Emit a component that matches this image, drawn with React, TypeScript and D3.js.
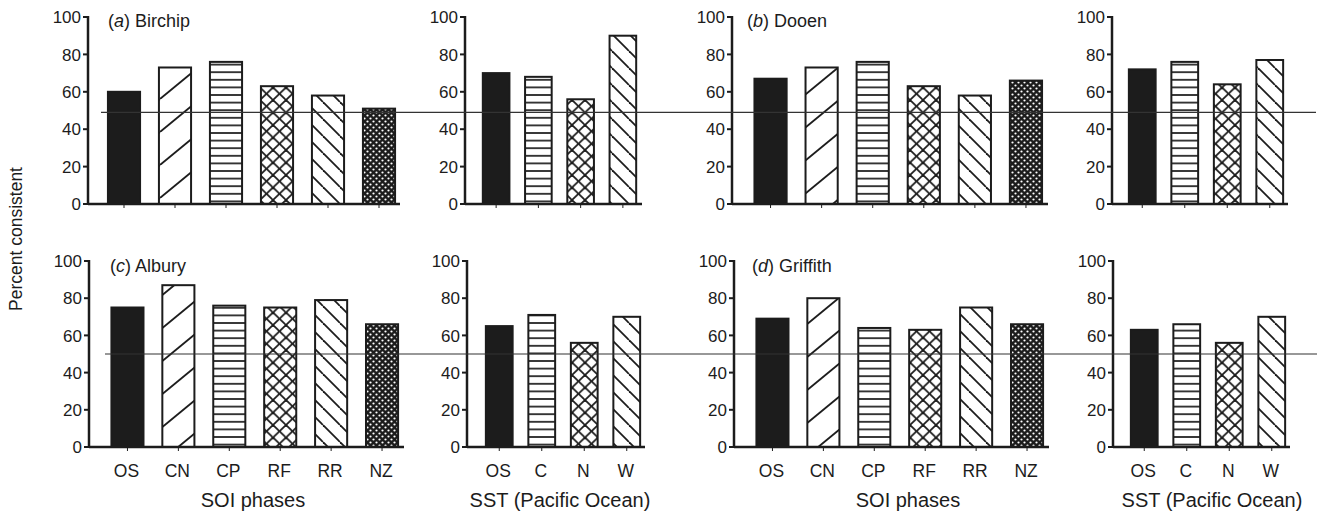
import React from "react";
import * as d3 from "d3";

// ---------- data ----------
const soiCats = ["OS", "CN", "CP", "RF", "RR", "NZ"];
const sstCats = ["OS", "C", "N", "W"];
const yTicks = [0, 20, 40, 60, 80, 100];

const birchipSOI = [60, 73, 76, 63, 58, 51];
const birchipSST = [70, 68, 56, 90];
const dooenSOI = [67, 73, 76, 63, 58, 66];
const dooenSST = [72, 76, 64, 77];
const alburySOI = [75, 87, 76, 75, 79, 66];
const alburySST = [65, 71, 56, 70];
const griffithSOI = [69, 80, 64, 63, 75, 66];
const griffithSST = [63, 66, 56, 70];

const soiFills = ["solid", "fwd", "horiz", "cross", "back", "dense"];
const sstFills = ["solid", "horiz", "cross", "back"];

const refTop = 49;
const refBottom = 50;

// ---------- layout ----------
const FONT = "'Liberation Sans', Arial, Helvetica, sans-serif";
const INK = "#1c1c1c";

type PanelProps = {
  cats: string[];
  values: number[];
  fills: string[];
  y0: number;
  y100: number;
  axisX: number;
  axisEnd: number;
  bandStart: number;
  bandEnd: number;
  showLabels: boolean;
};

function fillFor(kind: string) {
  if (kind === "solid") return INK;
  return `url(#pat-${kind})`;
}

function Panel(p: PanelProps) {
  const y = d3.scaleLinear().domain([0, 100]).range([p.y0, p.y100]);
  const x = d3
    .scaleBand<string>()
    .domain(p.cats)
    .range([p.bandStart, p.bandEnd])
    .paddingInner(0.37)
    .paddingOuter(0.185);
  const bw = x.bandwidth();
  return (
    <g>
      {p.cats.map((c, i) => (
        <rect
          key={c}
          x={x(c)}
          y={y(p.values[i])}
          width={bw}
          height={p.y0 - y(p.values[i])}
          fill={fillFor(p.fills[i])}
          stroke={INK}
          strokeWidth={2}
        />
      ))}
      <line x1={p.axisX} x2={p.axisX} y1={y(100) - 1} y2={p.y0} stroke={INK} strokeWidth={2.5} />
      {yTicks.map((t) => (
        <g key={t}>
          <line x1={p.axisX - 5} x2={p.axisX} y1={y(t)} y2={y(t)} stroke={INK} strokeWidth={2} />
          <text
            x={p.axisX - 7}
            y={y(t)}
            dy="0.36em"
            textAnchor="end"
            fontFamily={FONT}
            fontSize={17}
            fill={INK}
          >
            {t}
          </text>
        </g>
      ))}
      <line x1={p.axisX} x2={p.axisEnd} y1={p.y0} y2={p.y0} stroke={INK} strokeWidth={2.5} />
      {p.cats.map((c) => (
        <line
          key={"t" + c}
          x1={(x(c) as number) + bw / 2}
          x2={(x(c) as number) + bw / 2}
          y1={p.y0}
          y2={p.y0 + 4}
          stroke={INK}
          strokeWidth={1}
        />
      ))}
      {p.showLabels &&
        p.cats.map((c) => (
          <text
            key={"l" + c}
            x={(x(c) as number) + bw / 2 - 1}
            y={p.y0 + 30}
            textAnchor="middle"
            fontFamily={FONT}
            fontSize={17.5}
            fill={INK}
          >
            {c}
          </text>
        ))}
    </g>
  );
}

function Title({ x, y, letter, name }: { x: number; y: number; letter: string; name: string }) {
  return (
    <text x={x} y={y} fontFamily={FONT} fontSize={18} fill={INK}>
      (<tspan fontStyle="italic">{letter}</tspan>) {name}
    </text>
  );
}

export default function App() {
  const topY0 = 204;
  const topY100 = 17;
  const botY0 = 447;
  const botY100 = 261;
  const yTopScale = d3.scaleLinear().domain([0, 100]).range([topY0, topY100]);
  const yBotScale = d3.scaleLinear().domain([0, 100]).range([botY0, botY100]);

  return (
    <svg
      width={1318}
      height={517}
      style={{ position: "absolute", left: 0, top: 0, background: "#fff" }}
    >
      <defs>
        <pattern id="pat-fwd" patternUnits="userSpaceOnUse" width={40} height={33}>
          <rect width={40} height={33} fill="#fff" />
          <line x1={0} y1={33} x2={40} y2={0} stroke={INK} strokeWidth={1.8} />
          <line x1={-40} y1={33} x2={0} y2={0} stroke={INK} strokeWidth={1.8} />
          <line x1={40} y1={33} x2={80} y2={0} stroke={INK} strokeWidth={1.8} />
        </pattern>
        <pattern id="pat-back" patternUnits="userSpaceOnUse" width={17} height={17}>
          <rect width={17} height={17} fill="#fff" />
          <line x1={0} y1={0} x2={17} y2={17} stroke={INK} strokeWidth={1.8} />
          <line x1={-17} y1={0} x2={0} y2={17} stroke={INK} strokeWidth={1.8} />
          <line x1={17} y1={0} x2={34} y2={17} stroke={INK} strokeWidth={1.8} />
        </pattern>
        <pattern id="pat-horiz" patternUnits="userSpaceOnUse" width={10} height={7.6}>
          <rect width={10} height={7.6} fill="#fff" />
          <line x1={0} y1={3.8} x2={10} y2={3.8} stroke={INK} strokeWidth={1.7} />
        </pattern>
        <pattern id="pat-cross" patternUnits="userSpaceOnUse" width={13} height={12.5}>
          <rect width={13} height={12.5} fill="#fff" />
          <line x1={0} y1={0} x2={13} y2={12.5} stroke={INK} strokeWidth={1.8} />
          <line x1={0} y1={12.5} x2={13} y2={0} stroke={INK} strokeWidth={1.8} />
        </pattern>
        <pattern id="pat-dense" patternUnits="userSpaceOnUse" width={6} height={6}>
          <rect width={6} height={6} fill={INK} />
          <circle cx={1.5} cy={1.5} r={1.1} fill="#fff" />
          <circle cx={4.5} cy={4.5} r={1.1} fill="#fff" />
        </pattern>
      </defs>

      <Panel cats={soiCats} values={birchipSOI} fills={soiFills} y0={topY0} y100={topY100}
        axisX={88} axisEnd={400} bandStart={98.5} bandEnd={404.5} showLabels={false} />
      <Panel cats={sstCats} values={birchipSST} fills={sstFills} y0={topY0} y100={topY100}
        axisX={465} axisEnd={642} bandStart={475} bandEnd={644} showLabels={false} />
      <Panel cats={soiCats} values={dooenSOI} fills={soiFills} y0={topY0} y100={topY100}
        axisX={732} axisEnd={1048} bandStart={745} bandEnd={1051.5} showLabels={false} />
      <Panel cats={sstCats} values={dooenSST} fills={sstFills} y0={topY0} y100={topY100}
        axisX={1112} axisEnd={1288} bandStart={1121} bandEnd={1291} showLabels={false} />

      <Panel cats={soiCats} values={alburySOI} fills={soiFills} y0={botY0} y100={botY100}
        axisX={89} axisEnd={404} bandStart={102} bandEnd={407.5} showLabels={true} />
      <Panel cats={sstCats} values={alburySST} fills={sstFills} y0={botY0} y100={botY100}
        axisX={467} axisEnd={645} bandStart={478} bandEnd={648} showLabels={true} />
      <Panel cats={soiCats} values={griffithSOI} fills={soiFills} y0={botY0} y100={botY100}
        axisX={734} axisEnd={1049} bandStart={747} bandEnd={1052.5} showLabels={true} />
      <Panel cats={sstCats} values={griffithSST} fills={sstFills} y0={botY0} y100={botY100}
        axisX={1113} axisEnd={1290} bandStart={1123} bandEnd={1293} showLabels={true} />

      <line x1={101} x2={1316} y1={yTopScale(refTop)} y2={yTopScale(refTop)} stroke="#333" strokeWidth={1.2} />
      <line x1={105} x2={1317} y1={yBotScale(refBottom)} y2={yBotScale(refBottom)} stroke="#333" strokeWidth={1.2} />

      <Title x={108} y={27} letter="a" name="Birchip" />
      <Title x={747} y={27} letter="b" name="Dooen" />
      <Title x={110} y={272} letter="c" name="Albury" />
      <Title x={752} y={272} letter="d" name="Griffith" />

      <text
        transform="translate(22,239) rotate(-90)"
        textAnchor="middle"
        fontFamily={FONT}
        fontSize={17.5}
        fill={INK}
      >
        Percent consistent
      </text>

      <text x={253} y={507} textAnchor="middle" fontFamily={FONT} fontSize={20} fill={INK}>SOI phases</text>
      <text x={560} y={507} textAnchor="middle" fontFamily={FONT} fontSize={20} fill={INK}>SST (Pacific Ocean)</text>
      <text x={908} y={507} textAnchor="middle" fontFamily={FONT} fontSize={20} fill={INK}>SOI phases</text>
      <text x={1212} y={507} textAnchor="middle" fontFamily={FONT} fontSize={20} fill={INK}>SST (Pacific Ocean)</text>
    </svg>
  );
}
